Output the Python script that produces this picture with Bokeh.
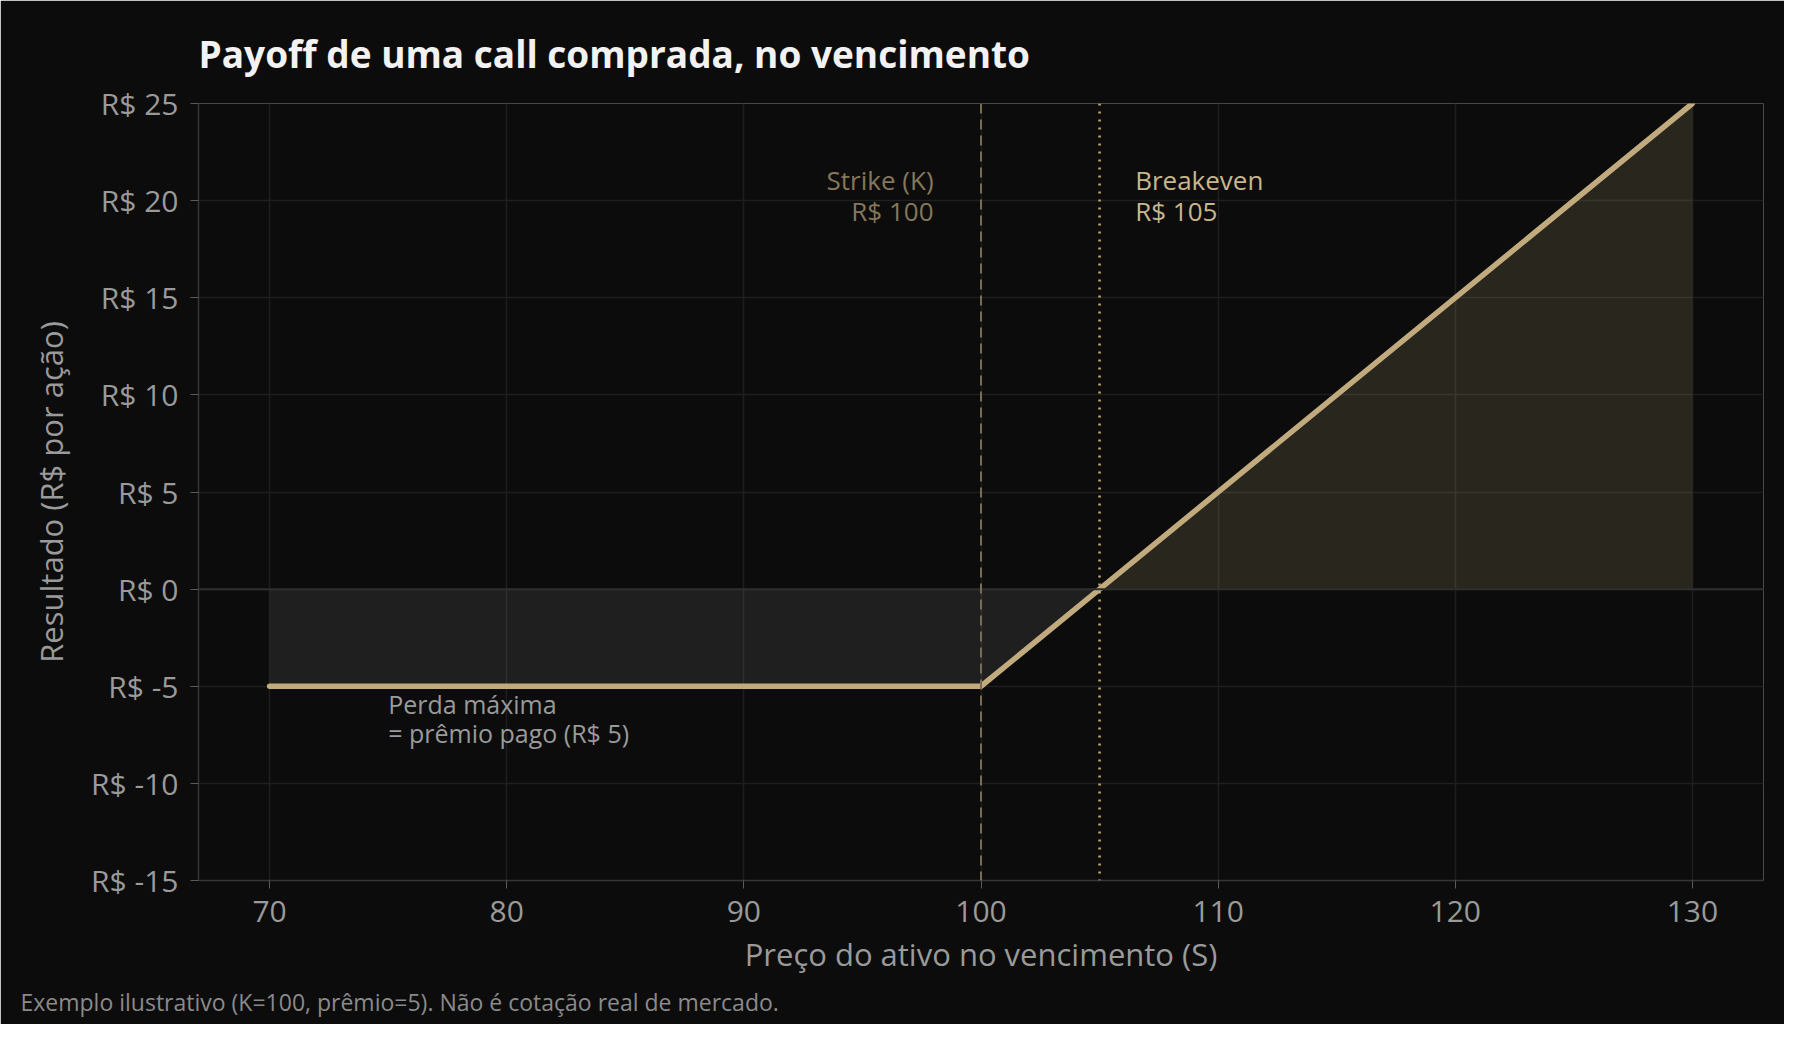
import numpy as np
from bokeh.plotting import figure
from bokeh.models import (ColumnDataSource, Span, FixedTicker, PrintfTickFormatter,
                          Range1d, Title)
from bokeh.core.properties import value
from bokeh.embed import file_html
from bokeh.resources import INLINE

# dados (exemplo ilustrativo)
preco = [70, 100, 105, 130]
resultado = [-5, -5, 0, 25]
strike = 100
breakeven = 105
x_ticks = [70, 80, 90, 100, 110, 120, 130]
y_ticks = [-15, -10, -5, 0, 5, 10, 15, 20, 25]

FONT = "Open Sans"
BG = "#0c0c0c"
GOLD = "#c0aa7e"

res = np.array(resultado, dtype=float)
src = ColumnDataSource(dict(x=preco, y=resultado,
                            perda=np.minimum(res, 0), ganho=np.maximum(res, 0),
                            zero=np.zeros(len(res))))

p = figure(width=1784, height=1024, output_backend="svg", toolbar_location=None,
           x_range=Range1d(67, 133), y_range=Range1d(-15, 25),
           min_border_left=198, min_border_right=21, min_border_top=103,
           min_border_bottom=140)
p.background_fill_color = BG
p.border_fill_color = BG
p.outline_line_color = None

p.title.text = "Payoff de uma call comprada, no vencimento"
p.title.text_font = FONT
p.title.text_font_size = "37px"
p.title.text_font_style = "bold"
p.title.text_color = "#f2f2f2"
p.title.align = "left"
p.title.text_line_height = 0.7
p.title.standoff = 50

# areas
p.varea(x="x", y1="perda", y2="zero", source=src, fill_color="#ffffff", fill_alpha=0.08)
p.varea(x="x", y1="zero", y2="ganho", source=src, fill_color=GOLD, fill_alpha=0.17)

# linha do zero
p.add_layout(Span(location=0, dimension="width", line_color="#2e2e2e", line_width=2))

# strike e breakeven
p.add_layout(Span(location=strike, dimension="height", line_color="#7a6c53",
                  line_width=2, line_dash="10 6"))
p.add_layout(Span(location=breakeven, dimension="height", line_color="#c9ab72",
                  line_width=2.5, line_dash="2 6"))

p.line(x="x", y="y", source=src, line_color=GOLD, line_width=5.5,
       line_cap="round", line_join="round")

# anotacoes
p.text(x=[98], y=[22.0], text=["Strike (K)\nR$ 100"], text_align="right",
       text_baseline="top", text_color="#85775a", text_font=value(FONT),
       text_font_size="26px", text_line_height=0.88)
p.text(x=[106.5], y=[22.0], text=["Breakeven\nR$ 105"], text_align="left",
       text_baseline="top", text_color="#c9b68c", text_font=value(FONT),
       text_font_size="26px", text_line_height=0.88)
p.text(x=[75], y=[-5.05], text=["Perda máxima\n= prêmio pago (R$ 5)"], text_align="left",
       text_baseline="top", text_color="#9a9a9a", text_font=value(FONT),
       text_font_size="25px", text_line_height=0.86)

# eixos
p.xaxis.ticker = FixedTicker(ticks=x_ticks)
p.yaxis.ticker = FixedTicker(ticks=y_ticks)
p.yaxis.formatter = PrintfTickFormatter(format="R$ %d")
p.xaxis.axis_label = "Preço do ativo no vencimento (S)"
p.yaxis.axis_label = "Resultado (R$ por ação)"
for ax in (p.xaxis, p.yaxis):
    ax.axis_line_color = "#363636"
    ax.axis_line_width = 1.5
    ax.major_tick_line_color = "#5a5a5a"
    ax.major_tick_out = 8
    ax.major_tick_in = 0
    ax.minor_tick_line_color = None
    ax.major_label_text_font = FONT
    ax.major_label_text_font_size = "30px"
    ax.major_label_text_color = "#9a9a9a"
    ax.axis_label_text_font = FONT
    ax.axis_label_text_font_size = "31px"
    ax.axis_label_text_font_style = "normal"
    ax.axis_label_text_color = "#9a9a9a"
p.xaxis.major_label_standoff = 12
p.yaxis.major_label_standoff = 12
p.xaxis.axis_label_standoff = 8
p.yaxis.axis_label_standoff = 16

p.xgrid.grid_line_color = "#1e1e1e"
p.ygrid.grid_line_color = "#1e1e1e"
p.xgrid.grid_line_width = 1.5
p.ygrid.grid_line_width = 1.5

p.add_layout(Title(text="Exemplo ilustrativo (K=100, prêmio=5). Não é cotação real de mercado.",
                   text_font=FONT, text_font_size="23px", text_font_style="normal",
                   text_color="#8a8a8a", align="left", offset=-178, standoff=13), "below")

open("out.html", "w").write(file_html(p, INLINE))
